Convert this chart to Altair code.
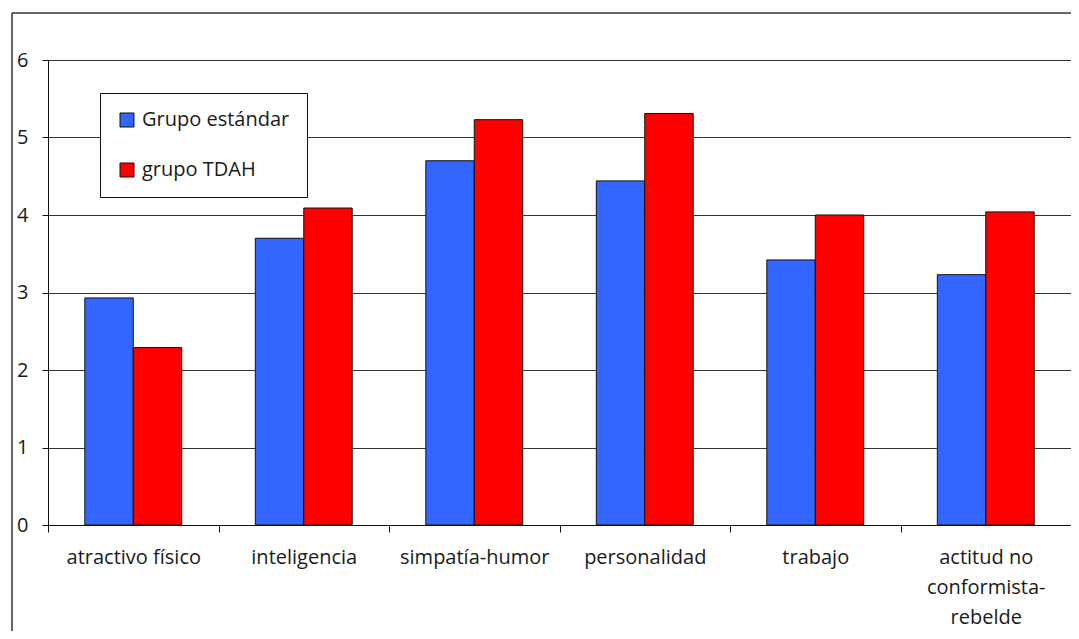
import altair as alt
import pandas as pd

categorias = ["atractivo físico", "inteligencia", "simpatía-humor",
              "personalidad", "trabajo", "actitud no conformista-rebelde"]
grupo_estandar = [2.93, 3.70, 4.70, 4.44, 3.42, 3.23]
grupo_tdah = [2.29, 4.09, 5.23, 5.31, 4.00, 4.04]
series = ["Grupo estándar", "grupo TDAH"]
colores = ["#3366FF", "#FF0000"]
y_ticks = [0, 1, 2, 3, 4, 5, 6]

rows = []
for c, a, b in zip(categorias, grupo_estandar, grupo_tdah):
    rows.append({"cat": c, "grupo": series[0], "valor": a})
    rows.append({"cat": c, "grupo": series[1], "valor": b})
df = pd.DataFrame(rows)

FONT = "Open Sans"
FS = 20
label_expr = ("datum.value == 'actitud no conformista-rebelde' ? "
              "['actitud no', 'conformista-', 'rebelde'] : datum.label")

bars = alt.Chart(df).mark_bar(stroke="#111111", strokeWidth=1).encode(
    x=alt.X("cat:N", sort=categorias, title=None,
            scale=alt.Scale(paddingInner=0, paddingOuter=0),
            axis=alt.Axis(labelAngle=0, tickBand="extent", ticks=True, tickSize=7,
                          tickColor="#111111", domainColor="#111111", grid=False,
                          labelFont=FONT, labelFontSize=FS, labelColor="#1a1a1a",
                          labelPadding=15, labelExpr=label_expr, labelLineHeight=30,
                          labelBaseline="top")),
    xOffset=alt.XOffset("grupo:N", sort=series,
                        scale=alt.Scale(paddingOuter=0.76, paddingInner=0)),
    y=alt.Y("valor:Q", title=None, scale=alt.Scale(domain=[0, 6]),
            axis=alt.Axis(values=y_ticks, grid=True, gridColor="#333333", gridOpacity=1,
                          domainColor="#111111", tickColor="#111111", tickSize=6,
                          labelFont=FONT, labelFontSize=FS, labelColor="#1a1a1a",
                          labelPadding=14)),
    color=alt.Color("grupo:N", sort=series,
                    scale=alt.Scale(domain=series, range=colores),
                    legend=alt.Legend(title=None, orient="none", legendX=52, legendY=33,
                                      strokeColor="#111111", fillColor="white",
                                      padding=17, rowPadding=30, symbolType="square",
                                      symbolSize=196, symbolStrokeColor="#111111",
                                      symbolStrokeWidth=1, symbolOpacity=1,
                                      labelFont=FONT, labelFontSize=FS,
                                      labelColor="#1a1a1a", labelOffset=5)),
)

frame_df = pd.DataFrame({"k": [0]})
frame_left = alt.Chart(frame_df).mark_rule(color="#333333", strokeWidth=1.5).encode(
    x=alt.value(-36), y=alt.value(-47), y2=alt.value(800))
frame_top = alt.Chart(frame_df).mark_rule(color="#333333", strokeWidth=1.5).encode(
    x=alt.value(-36), x2=alt.value(1200), y=alt.value(-47))

chart = alt.layer(frame_left, frame_top, bars).properties(
    width=1023, height=465,
    autosize=alt.AutoSizeParams(type="none"),
    padding={"left": 40, "top": 52, "right": 0, "bottom": 106},
).configure_view(stroke=None).configure(background="white")

chart.save("out.html", embed_options={"renderer": "svg", "actions": False})
